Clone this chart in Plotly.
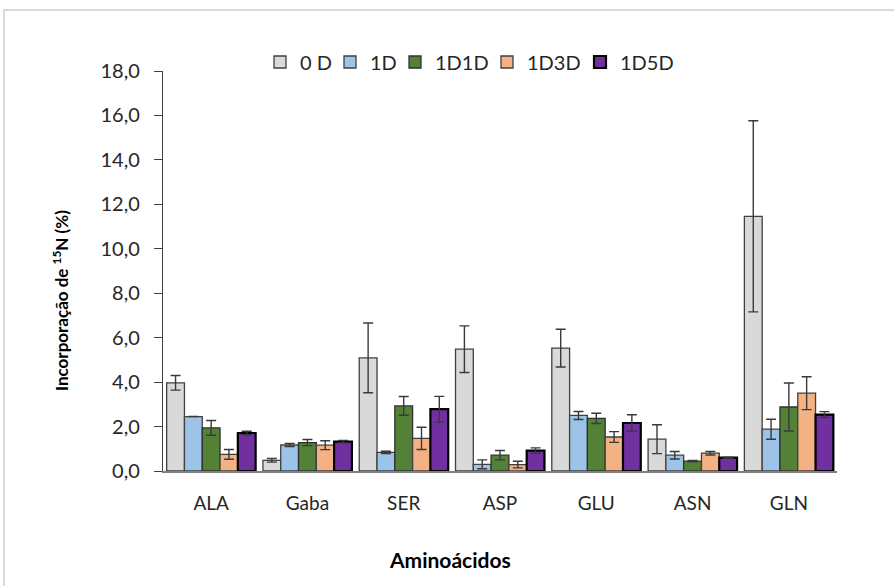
import plotly.graph_objects as go

# Amino acids on the category axis
aminoacids = ["ALA", "Gaba", "SER", "ASP", "GLU", "ASN", "GLN"]

# Mean 15N incorporation (%) per treatment
d0 = [3.97, 0.48, 5.09, 5.48, 5.53, 1.43, 11.46]
d1 = [2.45, 1.17, 0.84, 0.30, 2.50, 0.71, 1.88]
d1d1 = [1.94, 1.28, 2.93, 0.71, 2.37, 0.44, 2.88]
d1d3 = [0.75, 1.16, 1.47, 0.29, 1.53, 0.80, 3.50]
d1d5 = [1.71, 1.32, 2.78, 0.92, 2.16, 0.60, 2.54]

# Error bar half-lengths
e0 = [0.33, 0.08, 1.57, 1.05, 0.85, 0.65, 4.30]
e1 = [0.00, 0.07, 0.05, 0.20, 0.18, 0.17, 0.45]
e1d1 = [0.33, 0.14, 0.42, 0.21, 0.23, 0.03, 1.08]
e1d3 = [0.22, 0.20, 0.50, 0.15, 0.24, 0.08, 0.74]
e1d5 = [0.08, 0.06, 0.58, 0.12, 0.37, 0.02, 0.13]

series_names = ["0 D", "1D", "1D1D", "1D3D", "1D5D"]
values = [d0, d1, d1d1, d1d3, d1d5]
errors = [e0, e1, e1d1, e1d3, e1d5]
fills = ["#D9D9D9", "#9DC3E6", "#538135", "#F4B183", "#7030A0"]
edges = ["#404040", "#404040", "#303030", "#404040", "#000000"]
edge_w = [1.3, 1.3, 1.3, 1.3, 2.2]

FONT = "Lato"

# plot area in pixels: x 163..837, y 71..471
L, R, T, B = 163, 837, 71, 471
W, H = 894, 586
pw, ph = R - L, B - T

def px(x):
    return (x - L) / pw

def py(y):
    return (B - y) / ph

# left edge of each legend swatch, one single-entry legend per series
legend_left = [260, 330, 395, 487, 580]
legend_ids = ["legend", "legend2", "legend3", "legend4", "legend5"]

fig = go.Figure()
for name, v, e, c, lc, lw, lid in zip(series_names, values, errors, fills,
                                      edges, edge_w, legend_ids):
    fig.add_trace(go.Bar(
        x=aminoacids, y=v, name=name, legend=lid,
        marker=dict(color=c, line=dict(color=lc, width=lw)),
        error_y=dict(type="data", array=e, visible=True,
                     color="#3a3a3a", thickness=1.4, width=5),
    ))

legend_style = dict(orientation="h", xanchor="left", yanchor="middle",
                    y=py(62), font=dict(family=FONT, size=20, color="#262626"),
                    itemwidth=30, bgcolor="rgba(0,0,0,0)")

layout_legends = {}
for lid, xl in zip(legend_ids, legend_left):
    layout_legends[lid] = dict(legend_style, x=px(xl))

fig.update_layout(
    width=W, height=H,
    margin=dict(l=L, r=W - R, t=T, b=H - B),
    paper_bgcolor="white", plot_bgcolor="white",
    barmode="group", bargap=0.076, bargroupgap=0,
    separators=",.",
    font=dict(family=FONT, size=18, color="#262626"),
    showlegend=True,
    xaxis=dict(showline=True, linecolor="#808080", linewidth=1.5,
               ticks="", tickfont=dict(family=FONT, size=19, color="#262626"),
               ticklabelstandoff=14),
    yaxis=dict(range=[0, 18], dtick=2, tickformat=".1f",
               showline=True, linecolor="#404040", linewidth=1.3,
               ticks="outside", ticklen=8, tickcolor="#404040",
               showgrid=False, zeroline=False,
               tickfont=dict(family=FONT, size=20, color="#262626"),
               ticklabelstandoff=10),
    annotations=[
        dict(text="Incorporação de <sup>15</sup>N (%)", xref="paper", yref="paper",
             x=px(60), y=py(301), xanchor="center", yanchor="middle",
             textangle=-90, showarrow=False,
             font=dict(family=FONT, size=17, color="#000000", weight="bold")),
        dict(text="Aminoácidos", xref="paper", yref="paper",
             x=px(450), y=py(559), xanchor="center", yanchor="middle",
             showarrow=False,
             font=dict(family=FONT, size=21, color="#000000", weight="bold")),
    ],
    shapes=[
        dict(type="rect", xref="paper", yref="paper",
             x0=px(4), y0=py(640), x1=px(960), y1=py(10),
             line=dict(color="#D9D9D9", width=2), fillcolor="rgba(0,0,0,0)",
             layer="below"),
    ],
    **layout_legends,
)

fig.write_html("out.html")
